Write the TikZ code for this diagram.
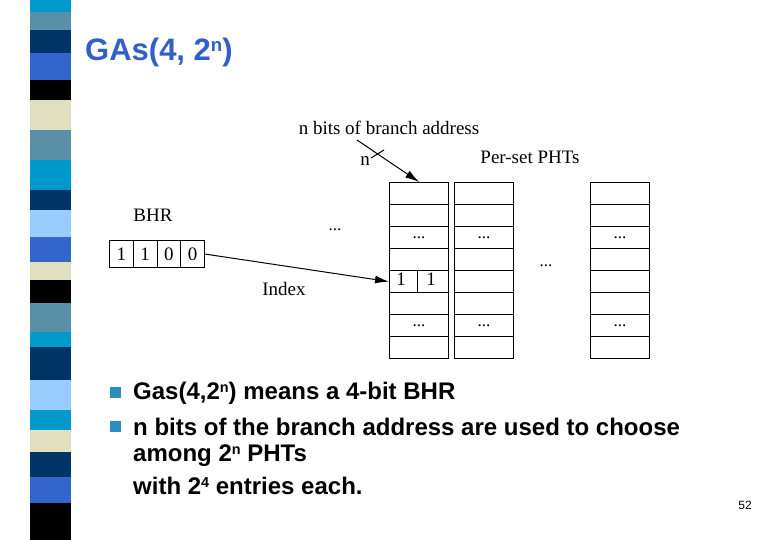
\documentclass[tikz,border=0pt]{standalone}
\usetikzlibrary{arrows.meta}
\usepackage{fontspec}
\setmainfont{Liberation Serif}
\newfontfamily\sans{Liberation Sans}
\newcommand{\mysup}[1]{\raisebox{0.55ex}{\scalebox{0.6}{#1}}}
\begin{document}
\begin{tikzpicture}[x=1pt,y=-1pt,
  cell/.style={draw,line width=1.2pt,minimum width=59pt,minimum height=22pt,anchor=north west,inner sep=0pt},
  lbl/.style={font=\fontsize{19}{21}\selectfont,inner sep=0pt},
  dots/.style={font=\fontsize{17}{19}\selectfont,inner sep=0pt},
  bul/.style={font=\sans\bfseries\fontsize{24}{28}\selectfont,anchor=west,inner sep=0pt},
  arr/.style={line width=1pt,-{Latex[length=14pt,width=8pt]}}]
\useasboundingbox (0,0) rectangle (780,540);
\fill[white] (0,0) rectangle (780,540);
% stripe
\foreach \a/\b/\c in {0/12/0099CC,12/30/5A8FA8,30/53/003366,53/80/3366CC,80/100/000000,100/130/E0E0C0,130/160/5A8FA8,160/190/0099CC,190/210/003366,210/237/99CCFF,237/262/3366CC,262/280/E0E0C0,280/303/000000,303/332/5A8FA8,332/347/0099CC,347/380/003366,380/410/99CCFF,410/430/0099CC,430/452/E0E0C0,452/477/003366,477/503/3366CC,503/540/000000}{
  \definecolor{sc}{HTML}{\c}
  \fill[sc] (30,\a) rectangle (71,\b);
}
% title
\definecolor{tc}{HTML}{3060C8}
\node[font=\sans\bfseries\fontsize{31}{34}\selectfont,text=tc,anchor=west,inner sep=0pt] (title) at (85,52) {GAs(4, 2\mysup{n})};
% BHR
\node[lbl] (bhrl) at (153,215) {BHR};
\foreach \i/\v in {0/1,1/1,2/0,3/0}{
  \node[draw,line width=1.2pt,minimum width=23.75pt,minimum height=27pt,anchor=north west,inner sep=0pt,lbl] (b\i) at ({109+\i*23.75},240) {\v};
}
% tables
\foreach \t/\x in {1/389,2/454,3/590}{
  \foreach \r in {0,...,7}{
    \node[cell] (t\t r\r) at (\x,{182+\r*22}) {};
  }
  \node[dots] at (t\t r2) {...};
  \node[dots] at (t\t r6) {...};
}
\draw[line width=1.2pt] (t1r4.north) ++(-2,0) -- ++(0,22);
\node[lbl] at (401,279) {1};
\node[lbl] at (431,279) {1};
% labels
\node[lbl] (nbits) at (389,128) {n bits of branch address};
\node[lbl] (pset) at (530,157) {Per-set PHTs};
\node[lbl] (nlab) at (365,161) {n};
\node[lbl] (idx) at (284,289) {Index};
\node[dots] (d1) at (335,230) {...};
\node[dots] (d2) at (546,266) {...};
\coordinate (as) at (357,140);
\draw[arr] (as) -- (t1r0.north);
\draw[line width=1pt] (371,158) -- (384,150);
\draw[arr] (b3.east) -- (t1r4.west);
% bullets
\definecolor{bc}{HTML}{2A8FC0}
\fill[bc] (110,387) rectangle (121,398);
\fill[bc] (110,421) rectangle (121,432);
\node[bul] (l1) at (133,393) {Gas(4,2\mysup{n}) means a 4-bit BHR};
\node[bul] (l2) at (133,427) {n bits of the branch address are used to choose};
\node[bul] (l3) at (133,456) {among 2\mysup{n} PHTs};
\node[bul] (l4) at (133,486) {with 2\mysup{4} entries each.};
\node[font=\sans\fontsize{12}{14}\selectfont,inner sep=0pt] (pg) at (745,505) {52};
\end{tikzpicture}
\end{document}
